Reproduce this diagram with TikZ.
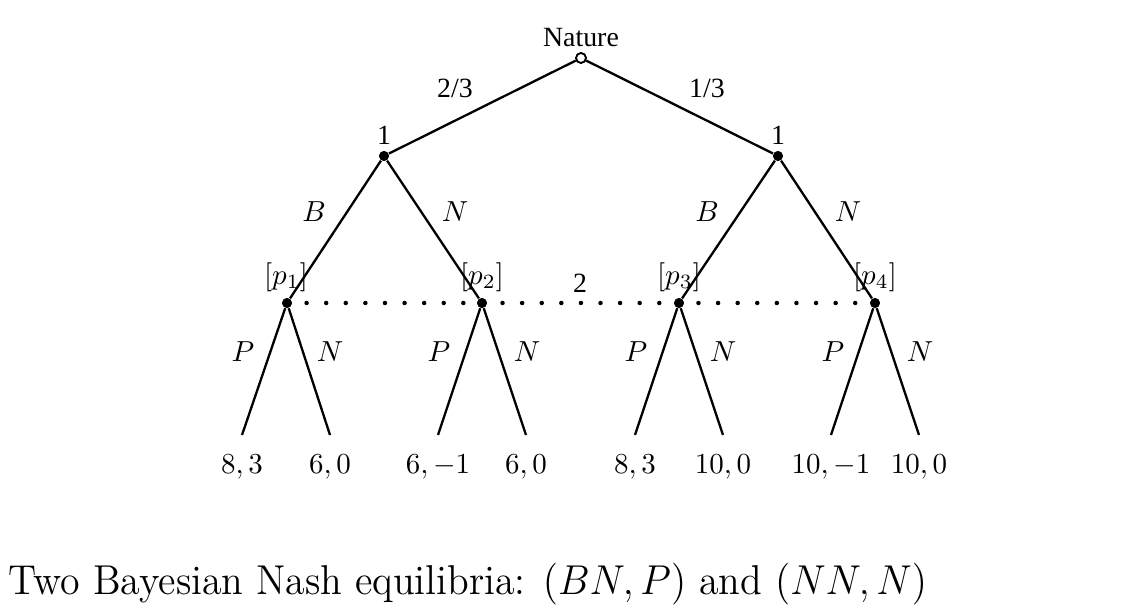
\documentclass[tikz,border=0pt]{standalone}
\usepackage{fontspec}
\usepackage{graphicx}
\newfontfamily\labfont{Liberation Serif}
\begin{document}
\begin{tikzpicture}[x=0.345pt,y=-0.345pt,
 branch/.style={line width=0.8pt},
 dec/.style={circle,fill,inner sep=0pt,minimum size=3.4pt},
 chance/.style={circle,draw,fill=white,inner sep=0pt,minimum size=3.4pt,line width=0.6pt},
 lab/.style={font=\labfont\fontsize{9.6}{11}\selectfont,inner sep=0pt},
 mlab/.style={inner sep=0pt},
 info/.style={line width=1.55pt,line cap=round,dash pattern=on 0pt off 6.76pt}
]
\useasboundingbox (0,0) rectangle (1128,615);
% nodes
\node[chance] (n0) at (581,58) {};
\node[dec] (a) at (384,156) {};
\node[dec] (b) at (778,156) {};
\node[dec] (c1) at (287,303) {};
\node[dec] (c2) at (482,303) {};
\node[dec] (c3) at (679,303) {};
\node[dec] (c4) at (875,303) {};
\coordinate (l1) at (242,435);
\coordinate (l2) at (330,435);
\coordinate (l3) at (438,435);
\coordinate (l4) at (526,435);
\coordinate (l5) at (635,435);
\coordinate (l6) at (723,435);
\coordinate (l7) at (831,435);
\coordinate (l8) at (919,435);
% information set
\draw[info] (c1.center) -- (c4.center);
% branches
\draw[branch] (n0) -- (a);
\draw[branch] (n0) -- (b);
\draw[branch] (a) -- (c1);
\draw[branch] (a) -- (c2);
\draw[branch] (b) -- (c3);
\draw[branch] (b) -- (c4);
\draw[branch] (c1) -- (l1);
\draw[branch] (c1) -- (l2);
\draw[branch] (c2) -- (l3);
\draw[branch] (c2) -- (l4);
\draw[branch] (c3) -- (l5);
\draw[branch] (c3) -- (l6);
\draw[branch] (c4) -- (l7);
\draw[branch] (c4) -- (l8);
% redraw nodes on top
\node[chance] at (n0) {};
\foreach \n in {a,b,c1,c2,c3,c4} \node[dec] at (\n) {};
% labels
\node[lab] (tn) at (581,38) {Nature};
\node[lab] (t23) at (455,88) {2/3};
\node[lab] (t13) at (707,88) {1/3};
\node[lab] (t1a) at (384,135) {1};
\node[lab] (t1b) at (778,135) {1};
\node[lab] (t2) at (580,283) {2};
\node[mlab] (ba) at (314,212) {$B$};
\node[mlab] (na) at (455,212) {$N$};
\node[mlab] (bb) at (707,212) {$B$};
\node[mlab] (nb) at (848,212) {$N$};
\node[mlab] (p1) at (286,277) {$[p_1]$};
\node[mlab] (p2) at (482,277) {$[p_2]$};
\node[mlab] (p3) at (679,277) {$[p_3]$};
\node[mlab] (p4) at (875,277) {$[p_4]$};
\node[mlab] (e1) at (243,352) {$P$};
\node[mlab] (e2) at (330,352) {$N$};
\node[mlab] (e3) at (439,352) {$P$};
\node[mlab] (e4) at (527,352) {$N$};
\node[mlab] (e5) at (636,352) {$P$};
\node[mlab] (e6) at (723,352) {$N$};
\node[mlab] (e7) at (833,352) {$P$};
\node[mlab] (e8) at (920,352) {$N$};
\node[mlab] (v1) at (242,467) {$8,3$};
\node[mlab] (v2) at (330,467) {$6,0$};
\node[mlab] (v3) at (438,467) {$6,-1$};
\node[mlab] (v4) at (526,467) {$6,0$};
\node[mlab] (v5) at (635,467) {$8,3$};
\node[mlab] (v6) at (723,467) {$10,0$};
\node[mlab] (v7) at (831,467) {$10,-1$};
\node[mlab] (v8) at (919,467) {$10,0$};
\node[anchor=base west,inner sep=0pt,font=\fontsize{14.4}{17}\selectfont] (cap) at (8,595) {\scalebox{0.955}[1]{Two Bayesian Nash equilibria: $(BN,P)$ and $(NN,N)$}};
\end{tikzpicture}
\end{document}
